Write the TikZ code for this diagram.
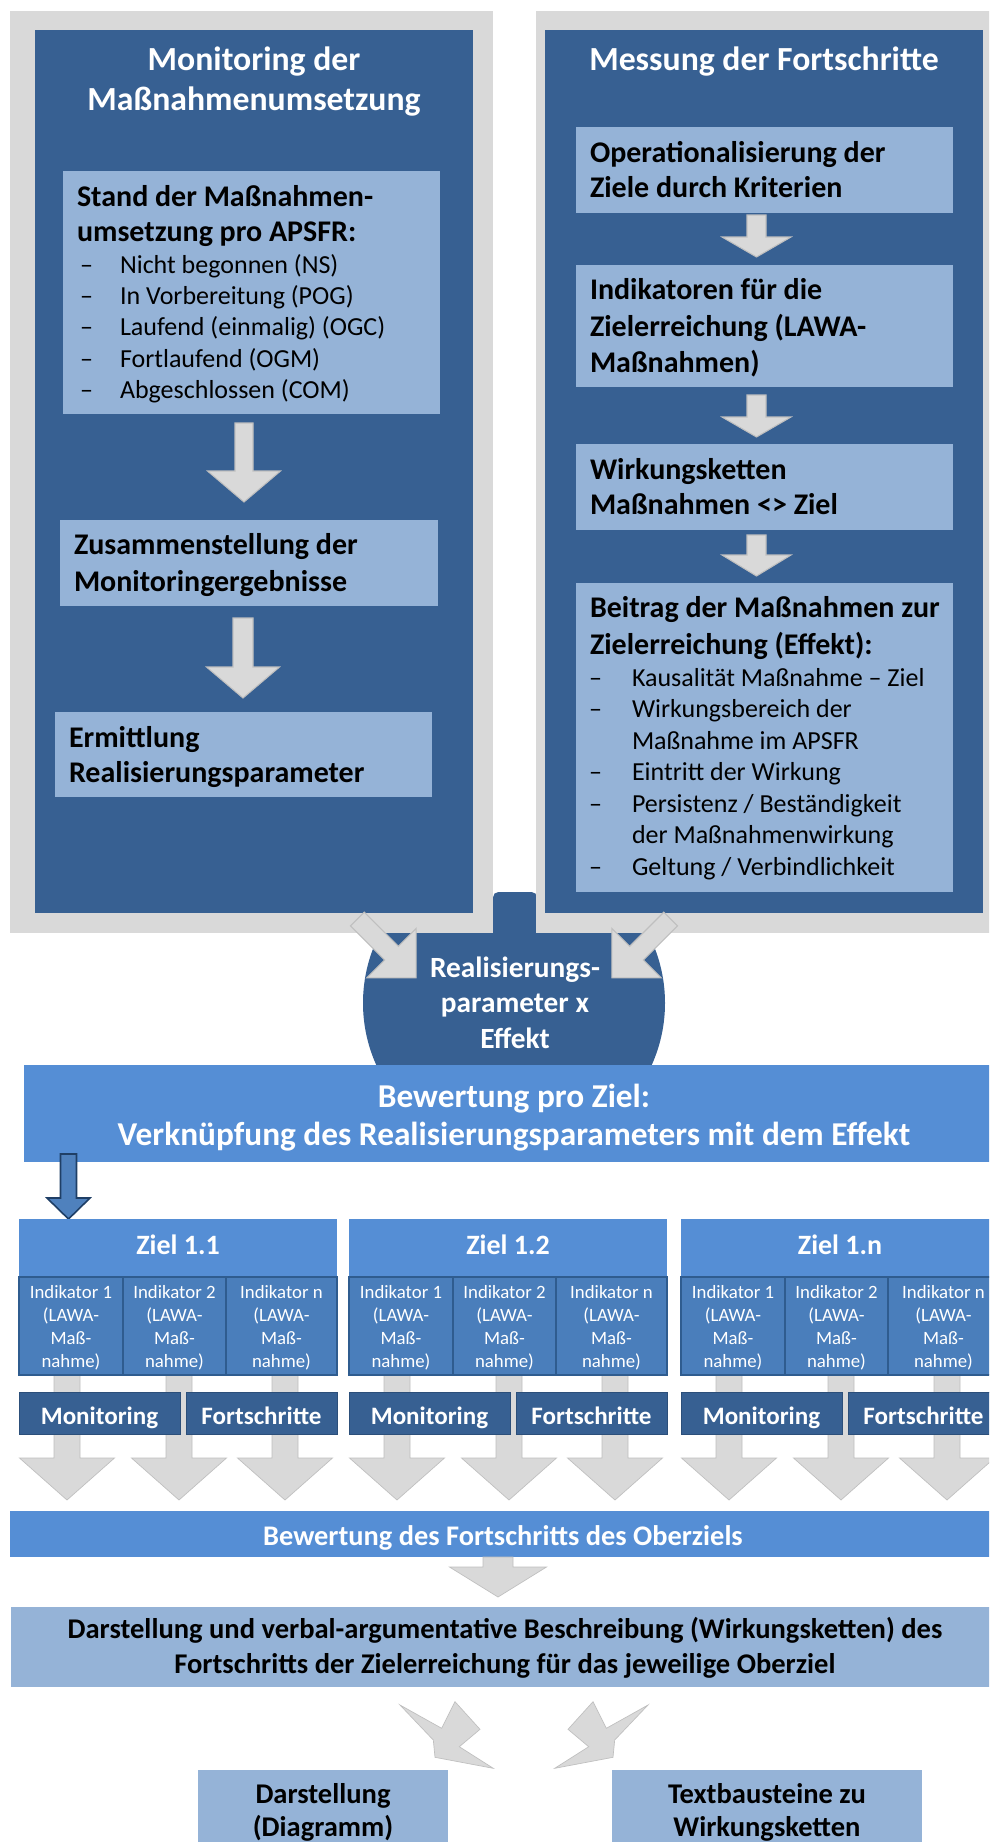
\documentclass[tikz,border=0pt]{standalone}
\usepackage{fontspec}
\setmainfont{Carlito}
\usetikzlibrary{fit}
\definecolor{panelgray}{HTML}{D9D9D9}
\definecolor{darkblue}{HTML}{376092}
\definecolor{lightblue}{HTML}{95B3D7}
\definecolor{midblue}{HTML}{558ED5}
\definecolor{cellblue}{HTML}{4A7EBB}
\definecolor{cellborder}{HTML}{2F5C8F}
\definecolor{arrowgray}{HTML}{D9D9D9}
\definecolor{arrowedge}{HTML}{BFBFBF}
\definecolor{monborder}{HTML}{2C4F7A}
\definecolor{navyedge}{HTML}{1F3F66}
\definecolor{arrowblue}{HTML}{4F81BD}

% block arrow pointing down: style, x centre, y top, y head start, y tip, shaft half width, head half width
\newcommand\dnarrow[7]{\path[#1] (#2-#6,#3) -- (#2+#6,#3) -- (#2+#6,#4) -- (#2+#7,#4) -- (#2,#5) -- (#2-#7,#4) -- (#2-#6,#4) -- cycle;}

\tikzset{
  plainarea/.style={inner sep=0pt, outer sep=0pt, draw=none},
  graypanel/.style={plainarea, fill=panelgray},
  bluepanel/.style={plainarea, fill=darkblue},
  lbox/.style={plainarea, fill=lightblue},
  mbox/.style={plainarea, fill=midblue},
  cellbox/.style={plainarea, fill=cellblue, draw=cellborder, line width=1.2pt},
  monbox/.style={plainarea, fill=darkblue, draw=monborder, line width=0.6pt},
  garrow/.style={fill=arrowgray, draw=arrowedge, line width=0.8pt},
  larrow/.style={fill=arrowgray, draw=arrowgray!88!black, line width=0.5pt},
  barrow/.style={fill=arrowblue, draw=navyedge, line width=1.2pt},
  txt/.style={inner sep=0pt, outer sep=0pt},
  ftitle/.style={txt, text=white, font=\fontsize{25.3}{30}\selectfont\bfseries},
  fhead/.style={txt, text=black, font=\fontsize{22.5}{27}\selectfont\bfseries},
  flist/.style={txt, text=black, font=\fontsize{19.5}{23.6}\selectfont},
  fcirc/.style={txt, text=white, font=\fontsize{22}{26.5}\selectfont\bfseries},
  fbew/.style={txt, text=white, font=\fontsize{25}{28}\selectfont\bfseries},
  fziel/.style={txt, text=white, font=\fontsize{21}{25}\selectfont\bfseries},
  find/.style={txt, text=white, font=\fontsize{14.1}{17.3}\selectfont},
  fmon/.style={txt, text=white, font=\fontsize{18.8}{22}\selectfont\bfseries},
  fober/.style={txt, text=white, font=\fontsize{21.3}{25}\selectfont\bfseries},
  fdar/.style={txt, text=black, font=\fontsize{21.4}{25}\selectfont\bfseries},
}

\begin{document}
\begin{tikzpicture}[x=0.75pt,y=-0.75pt]
\path[use as bounding box] (0,0) rectangle (989,1842);
\clip (0,0) rectangle (989,1842);
\fill[white] (0,0) rectangle (989,1842);

% central circle (behind the panels)
\begin{scope}
  \clip (0,925) rectangle (989,1842);
  \node[circle, fill=darkblue, minimum size=226.5pt, inner sep=0pt] (circ) at (514,1003) {};
\end{scope}
\fill[darkblue, rounded corners=4pt] (493,960) -- (493,892) -- (537,892) -- (537,960) -- cycle;

% panels
\node[graypanel, fit={(10,11) (493,933)}] (grayL) {};
\node[graypanel, fit={(536,11) (1005,933)}] (grayR) {};
\node[bluepanel, fit={(35,30) (473,913)}] (panelL) {};
\node[bluepanel, fit={(545,30) (983,913)}] (panelR) {};

% titles
\node[ftitle, anchor=base] (titleLa) at (254,70.8) {Monitoring der};
\node[ftitle, anchor=base] (titleLb) at (254,110.8) {Maßnahmenumsetzung};
\node[ftitle, anchor=base] (titleR) at (764,70.8) {Messung der Fortschritte};

% left column
\node[lbox, fit={(63,171) (440,414)}] (stand) {};
\node[fhead, anchor=base west] (standA) at (77,206.6) {Stand der Maßnahmen-};
\node[fhead, anchor=base west] (standB) at (77,241.6) {umsetzung pro APSFR:};
\foreach \yy/\itm [count=\i] in {273.3/{Nicht begonnen (NS)}, 304.6/{In Vorbereitung (POG)}, 335.9/{Laufend (einmalig) (OGC)}, 367.2/{Fortlaufend (OGM)}, 398.5/{Abgeschlossen (COM)}} {
  \node[flist, anchor=base west] (sd\i) at (80,\yy) {–};
  \node[flist, anchor=base west] (si\i) at (120,\yy) {\itm};
}
\dnarrow{garrow}{244}{423}{471}{502}{9}{36.5}
\node[lbox, fit={(60,520) (438,606)}] (zus) {};
\node[fhead, anchor=base west] (zusA) at (74,554.6) {Zusammenstellung der};
\node[fhead, anchor=base west] (zusB) at (74,591.6) {Monitoringergebnisse};
\dnarrow{garrow}{243}{618}{667}{698}{10}{36.5}
\node[lbox, fit={(55,712) (432,797)}] (erm) {};
\node[fhead, anchor=base west] (ermA) at (69,747.6) {Ermittlung};
\node[fhead, anchor=base west] (ermB) at (69,782.6) {Realisierungsparameter};

% right column
\node[lbox, fit={(576,127) (953,213)}] (oper) {};
\node[fhead, anchor=base west] (operA) at (590,162.6) {Operationalisierung der};
\node[fhead, anchor=base west] (operB) at (590,197.6) {Ziele durch Kriterien};
\dnarrow{garrow}{756.5}{215}{237}{257}{9.5}{34.5}
\node[lbox, fit={(576,265) (953,387)}] (indik) {};
\node[fhead, anchor=base west] (indA) at (590,299.6) {Indikatoren für die};
\node[fhead, anchor=base west] (indB) at (590,336.6) {Zielerreichung (LAWA-};
\node[fhead, anchor=base west] (indC) at (590,372.6) {Maßnahmen)};
\dnarrow{garrow}{756.5}{395}{417}{437}{9.5}{34.5}
\node[lbox, fit={(576,444) (953,530)}] (wirk) {};
\node[fhead, anchor=base west] (wirkA) at (590,479.6) {Wirkungsketten};
\node[fhead, anchor=base west] (wirkB) at (590,514.6) {Maßnahmen <> Ziel};
\dnarrow{garrow}{756.5}{535}{555}{576}{9.5}{34.5}
\node[lbox, fit={(576,583) (953,892)}] (beitrag) {};
\node[fhead, anchor=base west] (beiA) at (590,617.6) {Beitrag der Maßnahmen zur};
\node[fhead, anchor=base west] (beiB) at (590,654.6) {Zielerreichung (Effekt):};
\foreach \yy/\itm [count=\i] in {686/{Kausalität Maßnahme – Ziel}, 717.5/{Wirkungsbereich der}, 780.5/{Eintritt der Wirkung}, 812/{Persistenz / Beständigkeit}, 875/{Geltung / Verbindlichkeit}} {
  \node[flist, anchor=base west] (bd\i) at (589,\yy) {–};
  \node[flist, anchor=base west] (bi\i) at (632,\yy) {\itm};
}
\node[flist, anchor=base west] (bc1) at (632,749) {Maßnahme im APSFR};
\node[flist, anchor=base west] (bc2) at (632,843.5) {der Maßnahmenwirkung};

% circle text and arrows into it
\node[fcirc, anchor=base] (circA) at (515,977) {Realisierungs-};
\node[fcirc, anchor=base] (circB) at (515,1012.5) {parameter x};
\node[fcirc, anchor=base] (circC) at (515,1048) {Effekt};
\begin{scope}[shift={(357.3,919)}, rotate=45]
  \dnarrow{garrow}{0}{0}{48.3}{83.3}{9.7}{35}
\end{scope}
\begin{scope}[shift={(670.7,919)}, rotate=-45]
  \dnarrow{garrow}{0}{0}{48.3}{83.3}{9.7}{35}
\end{scope}

% Bewertung pro Ziel
\node[mbox, fit={(24,1065) (1005,1162)}] (bew) {};
\node[fbew, anchor=base] (bewA) at (514,1107) {Bewertung pro Ziel:};
\node[fbew, anchor=base] (bewB) at (514,1145) {Verknüpfung des Realisierungsparameters mit dem Effekt};
\dnarrow{barrow}{68.5}{1154}{1198}{1219}{8}{21.5}

% Ziel groups
\foreach \g/\lbl/\nm in {19/1.1/a, 349/1.2/b, 681/1.n/c} {
  \foreach \ax in {48,160,266} {
    \dnarrow{larrow}{\g+\ax}{1375}{1458}{1500}{13}{47.5}
  }
  \node[mbox, fit={(\g+0,1219) (\g+318,1277)}] (ziel\nm) {};
  \node[fziel, anchor=base] (zt\nm) at (\g+159,1254) {Ziel \lbl};
  \node[cellbox, fit={(\g+0,1277) (\g+104,1375)}] (c\nm1) {};
  \node[cellbox, fit={(\g+104,1277) (\g+207,1375)}] (c\nm2) {};
  \node[cellbox, fit={(\g+207,1277) (\g+318,1375)}] (c\nm3) {};
  \foreach \cx/\ci in {52/1, 155.5/2, 262.5/n} {
    \node[find, anchor=base] (i\nm\ci a) at (\g+\cx,1298) {Indikator \ci};
    \node[find, anchor=base] (i\nm\ci b) at (\g+\cx,1321) {(LAWA-};
    \node[find, anchor=base] (i\nm\ci c) at (\g+\cx,1344) {Maß-};
    \node[find, anchor=base] (i\nm\ci d) at (\g+\cx,1367) {nahme)};
  }
  \node[monbox, fit={(\g+0,1392) (\g+161,1434)}] (mon\nm) {};
  \node[fmon, anchor=base] (mont\nm) at (\g+80.5,1424) {Monitoring};
  \node[monbox, fit={(\g+167,1392) (\g+318,1434)}] (fort\nm) {};
  \node[fmon, anchor=base] (fortt\nm) at (\g+242.5,1424) {Fortschritte};
}

% Oberziel
\node[mbox, fit={(10,1511) (1005,1557)}] (ober) {};
\node[fober, anchor=base] (oberT) at (503,1545) {Bewertung des Fortschritts des Oberziels};
\dnarrow{larrow}{498}{1557}{1567}{1597}{15}{48.5}

% Darstellung
\node[lbox, fit={(11,1607) (1005,1687)}] (darst) {};
\node[fdar, anchor=base] (darA) at (505,1638.3) {Darstellung und verbal-argumentative Beschreibung (Wirkungsketten) des};
\node[fdar, anchor=base] (darB) at (505,1673) {Fortschritts der Zielerreichung für das jeweilige Oberziel};

% zigzag arrows
\path[larrow] (400,1705) -- (441.7,1728.3) -- (455,1701.7) -- (480,1729.3) -- (459.3,1746.7) -- (493.3,1768.3) -- (435,1757.3) -- (433.3,1740) -- cycle;
\path[larrow] (648,1705) -- (606.3,1728.3) -- (593,1701.7) -- (568,1729.3) -- (588.7,1746.7) -- (554.7,1768.3) -- (613,1757.3) -- (614.7,1740) -- cycle;

% bottom boxes
\node[lbox, fit={(198,1770) (448,1900)}] (diag) {};
\node[fdar, anchor=base] (diagA) at (323,1803) {Darstellung};
\node[fdar, anchor=base] (diagB) at (323,1836) {(Diagramm)};
\node[lbox, fit={(612,1770) (922,1900)}] (textb) {};
\node[fdar, anchor=base] (textbA) at (767,1803) {Textbausteine zu};
\node[fdar, anchor=base] (textbB) at (767,1836) {Wirkungsketten};
\end{tikzpicture}
\end{document}
